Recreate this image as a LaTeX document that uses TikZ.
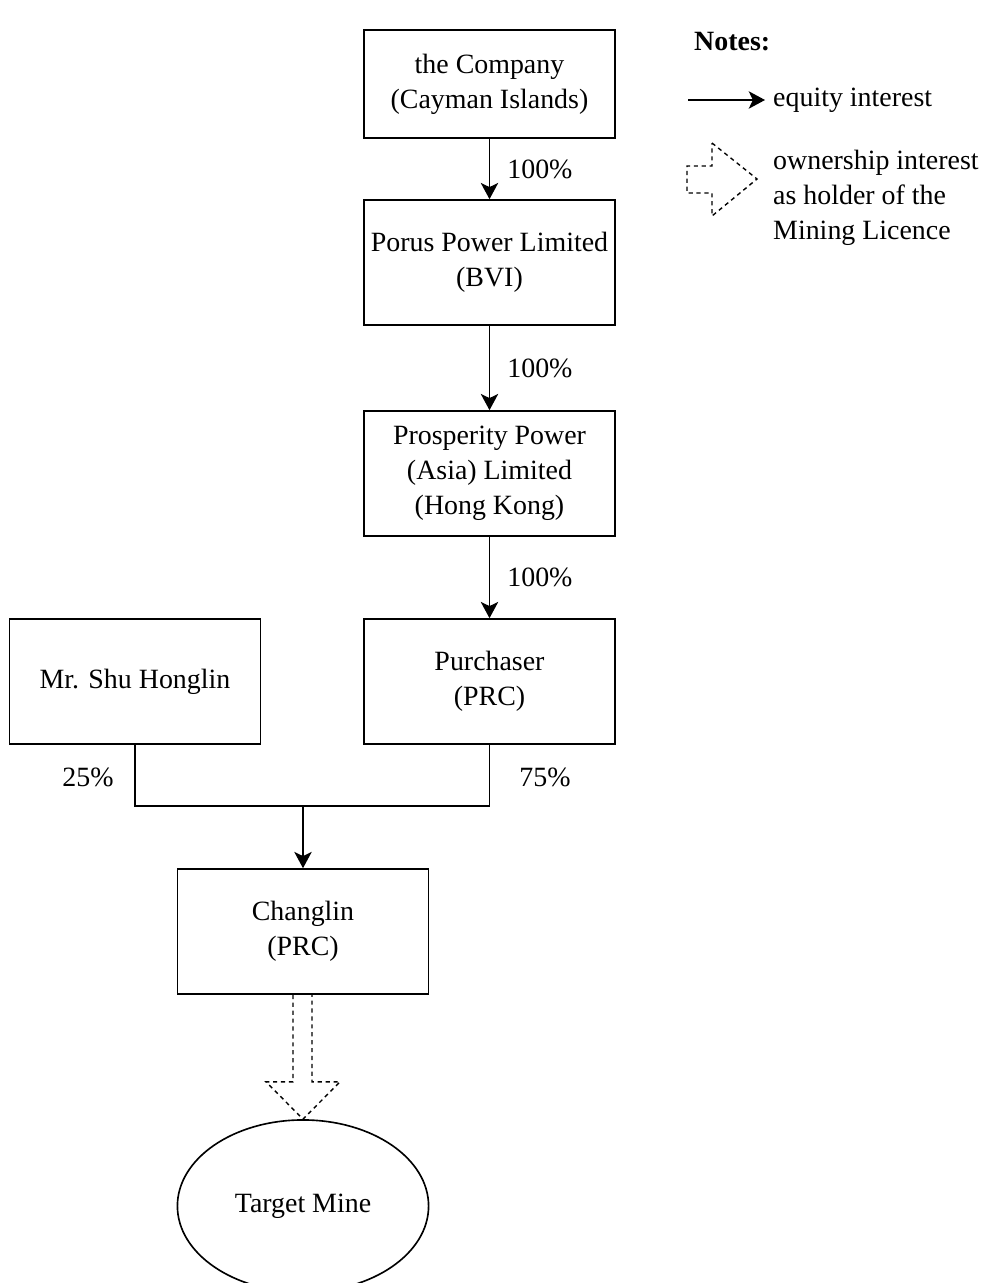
\documentclass[tikz,border=0pt]{standalone}
\usepackage{fontspec}
\setmainfont{Liberation Serif}
\usetikzlibrary{arrows.meta,calc,shapes.geometric}
\tikzset{mybox/.style={draw,line width=.7pt,minimum width=108pt,minimum height=53.75pt,align=center,inner sep=2pt},
myarrow/.style={line width=.7pt,-{Stealth[length=7pt,width=7.5pt,inset=1.8pt]}},
mydash/.style={line width=.6pt,dash pattern=on 1.8pt off 1.6pt},
mypct/.style={right,xshift=4pt}}

\begin{document}
\begin{tikzpicture}[x=.43pt,y=-.43pt,font=\fontsize{12}{15}\selectfont]
\useasboundingbox (0,0) rectangle (994,1283);
% chart
\node[mybox,minimum height=46.4pt] (company) at (489.5,84) {the Company\\(Cayman Islands)};
\node[mybox] (porus) at (489.5,262.5) {Porus Power Limited\\(BVI)};
\node[mybox] (prosperity) at (489.5,473.5) {Prosperity Power\\(Asia) Limited\\(Hong Kong)};
\node[mybox] (purchaser) at (489.5,681.5) {Purchaser\\(PRC)};
\node[mybox] (shu) at (135,681.5) {Mr. Shu Honglin};
\node[mybox] (changlin) at (303,931.5) {Changlin\\(PRC)};
\node[draw,ellipse,line width=.7pt,minimum width=108pt,minimum height=74pt] (mine) at (303,1206) {Target Mine};
\draw[myarrow] (company) -- node[mypct]{100\%} (porus);
\draw[myarrow] (porus) -- node[mypct]{100\%} (prosperity);
\draw[myarrow] (prosperity) -- node[mypct]{100\%} (purchaser);
\coordinate (join) at (changlin.north |- 0,806);
\draw[line width=.7pt] (shu.south) |- (join) -| (purchaser.south);
\draw[myarrow] (join) -- (changlin);
\node (pctshu) at (88,777) {25\%};
\node (pctpur) at (545,777) {75\%};
\draw[mydash] ($(changlin.south)+(-10,0)$) -- ++(0,87) -- ++(-27,0) -- (mine.north)
  -- ($(changlin.south)+(37,87)$) -- ++(-28,0) -- ($(changlin.south)+(9,0)$);
% notes
\node[anchor=west,font=\fontsize{12}{15}\selectfont\bfseries] (notes) at (686,42) {Notes:};
\coordinate (eqa) at (688,100);
\coordinate (eqb) at (765,100);
\draw[myarrow] (eqa) -- (eqb);
\node[anchor=west] (eqtext) at (765,100) {equity interest};
\draw[mydash] (712,143) -- (757,179) -- (712,216) -- (712,193) -- (687,193) -- (687,166) -- (712,166) -- cycle;
\node[anchor=west,align=left] (owntext) at (765,198) {ownership interest\\as holder of the\\Mining Licence};
\end{tikzpicture}
\end{document}
